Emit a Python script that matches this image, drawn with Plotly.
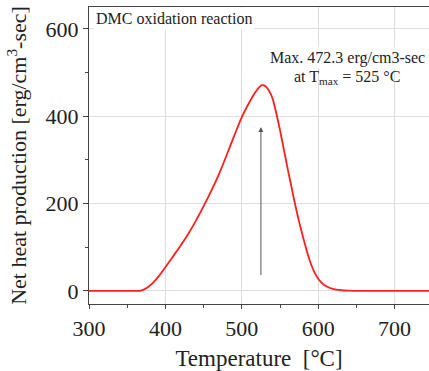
import plotly.graph_objects as go

temperature = [300, 360, 367, 375, 384, 392, 400, 410, 420, 430, 440, 450, 460, 470, 480, 490, 500,
               510, 517, 522, 526, 530, 535, 540, 545, 550, 555, 560, 565, 570, 575, 580, 585,
               590, 595, 600, 605, 610, 620, 630, 640, 650, 700, 750]
heat = [0, 0, 0, 6, 19, 35, 54, 79, 104, 131, 161, 194, 229, 267, 310, 355, 398,
        432, 453, 465, 471, 470, 460, 442, 408, 368, 324, 280, 238, 196, 158, 124, 92,
        64, 43, 28, 18, 11, 4, 1.5, 0.5, 0, 0, 0]

x_ticks = [300, 400, 500, 600, 700]
y_ticks = [0, 200, 400, 600]

peak_value = 472.3
peak_temp = 525

FONT = "Liberation Serif"

fig = go.Figure()
fig.add_trace(go.Scatter(x=temperature, y=heat, mode="lines",
                         line=dict(color="#ff1f1f", width=1.8, shape="spline", smoothing=0.5),
                         showlegend=False))

fig.add_annotation(x=peak_temp, y=375, ax=peak_temp, ay=33, xref="x", yref="y",
                   axref="x", ayref="y", showarrow=True, arrowhead=2, arrowsize=1,
                   arrowwidth=1, arrowcolor="#555555", text="")

fig.add_annotation(x=0.012, y=1.0, xref="paper", yref="paper", xanchor="left", yanchor="top",
                   text="DMC oxidation reaction", showarrow=False, bgcolor="white",
                   borderpad=2, font=dict(family=FONT, size=16, color="#222"))

fig.add_annotation(x=638, y=533, xref="x", yref="y", showarrow=False, bgcolor="white",
                   text=f"Max. {peak_value} erg/cm3-sec",
                   font=dict(family=FONT, size=16, color="#222"))
fig.add_annotation(x=638, y=488, xref="x", yref="y", showarrow=False,
                   text=f"at T<sub>max</sub> = {peak_temp} \u00b0C",
                   font=dict(family=FONT, size=16, color="#222"))

fig.update_layout(
    width=429, height=371,
    margin=dict(l=89, r=0, t=7, b=67),
    paper_bgcolor="white", plot_bgcolor="white",
    font=dict(family=FONT, color="#222"),
)
fig.update_xaxes(
    range=[300, 745], tickvals=x_ticks, ticks="outside", ticklen=4, tickwidth=1,
    tickcolor="#444", showline=True, linecolor="#444", linewidth=1.3, mirror=True,
    showgrid=True, gridcolor="#dddddd", gridwidth=1, zeroline=False, automargin=False,
    tickfont=dict(family=FONT, size=22, color="#222"),
    minor=dict(dtick=50, tick0=300, ticks="outside", ticklen=3, tickcolor="#444", showgrid=False),
    title=dict(text="Temperature  [\u00b0C]", font=dict(family=FONT, size=23, color="#222"), standoff=10),
)
fig.update_yaxes(
    range=[-30, 650], tickvals=y_ticks, ticks="outside", ticklen=5, tickwidth=1,
    tickcolor="#444", showline=True, linecolor="#444", linewidth=1.3,
    showgrid=True, gridcolor="#dddddd", gridwidth=1, zeroline=False, automargin=False,
    tickfont=dict(family=FONT, size=22, color="#222"),
    minor=dict(dtick=100, tick0=0, ticks="outside", ticklen=3, tickcolor="#444", showgrid=False),
    title=dict(text="Net heat production [erg/cm<sup>3</sup>-sec]",
               font=dict(family=FONT, size=22, color="#222"), standoff=12),
)

fig.write_html("out.html", config={"displayModeBar": False},
               post_script="document.body.style.margin='0';document.body.style.overflow='hidden';")
